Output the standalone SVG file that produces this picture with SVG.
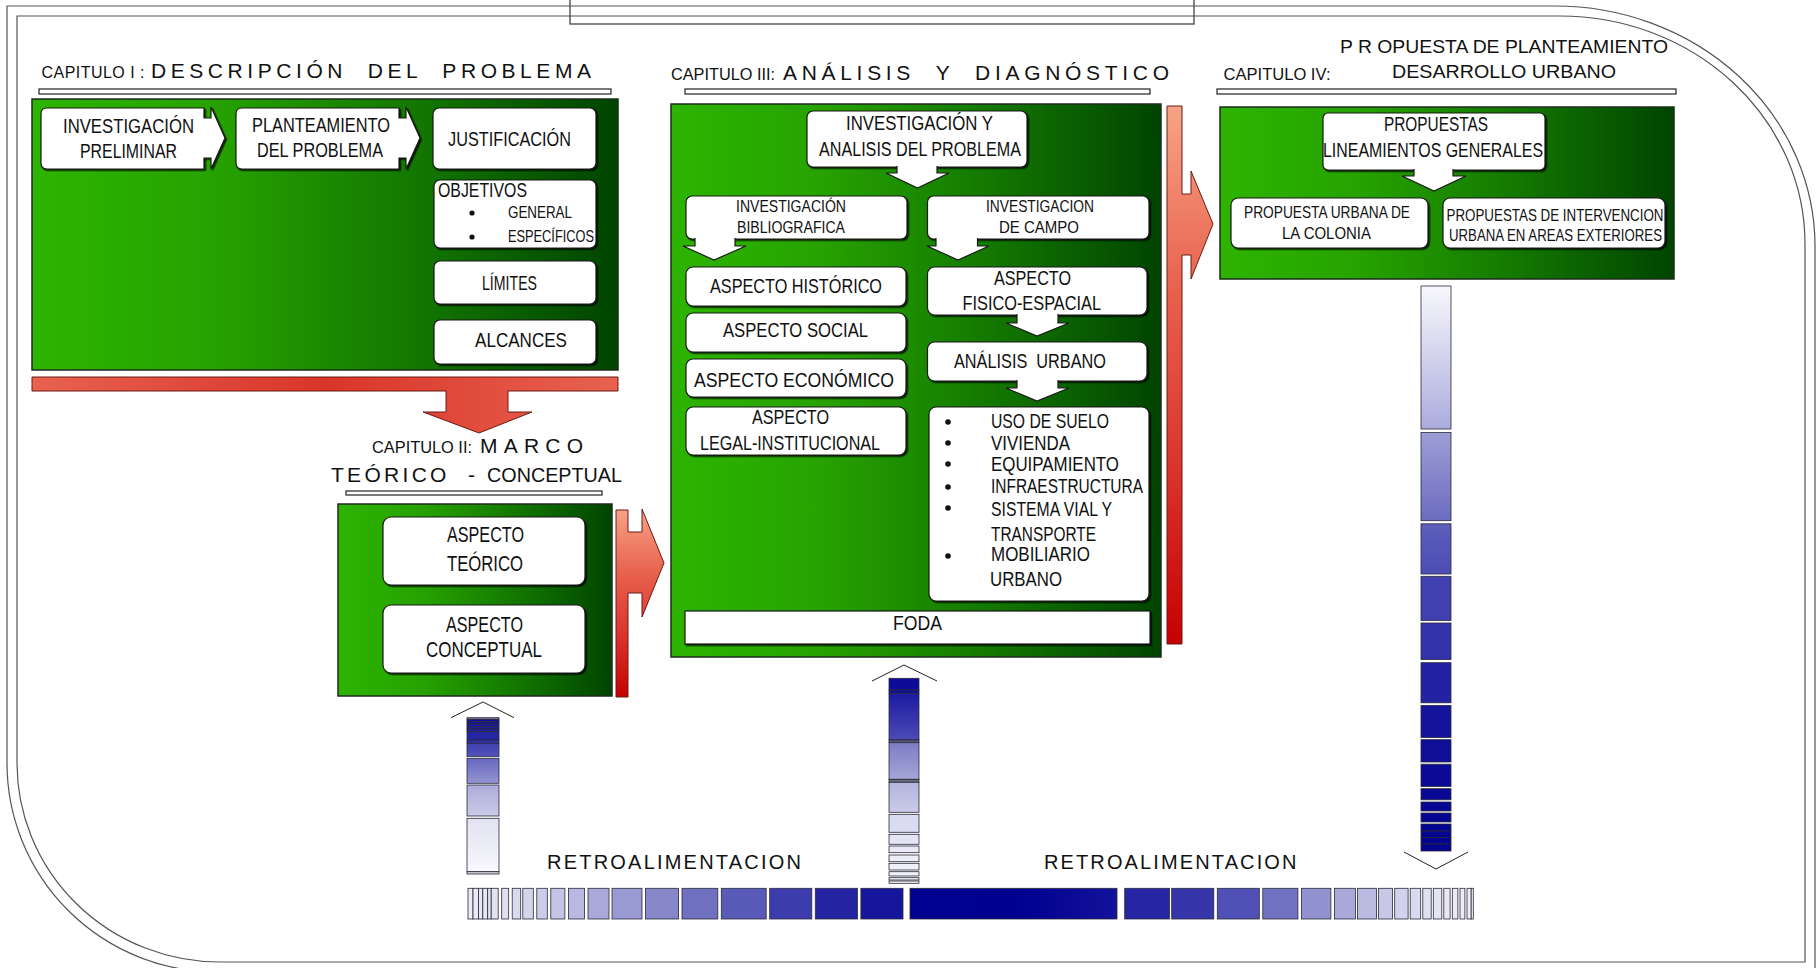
<svg xmlns="http://www.w3.org/2000/svg" width="1818" height="968" viewBox="0 0 1818 968">
<defs>
<linearGradient id="green" x1="0" y1="0" x2="1" y2="0">
<stop offset="0" stop-color="#2db400"/><stop offset="0.3" stop-color="#27a300"/><stop offset="0.65" stop-color="#137800"/><stop offset="1" stop-color="#004400"/>
</linearGradient>
<linearGradient id="redH" x1="0" y1="0" x2="1" y2="0">
<stop offset="0" stop-color="#e8624f"/><stop offset="0.5" stop-color="#d9352a"/><stop offset="1" stop-color="#e8624f"/>
</linearGradient>
<linearGradient id="redV" x1="0" y1="0" x2="0" y2="1">
<stop offset="0" stop-color="#f7a386"/><stop offset="0.35" stop-color="#e8604c"/><stop offset="0.7" stop-color="#d8302a"/><stop offset="1" stop-color="#c60000"/>
</linearGradient>
<linearGradient id="gR1" x1="0" y1="0" x2="0" y2="1"><stop offset="0" stop-color="#f8f8fc"/><stop offset="1" stop-color="#acacde"/></linearGradient>
<linearGradient id="gR2" x1="0" y1="0" x2="0" y2="1"><stop offset="0" stop-color="#9e9ed6"/><stop offset="1" stop-color="#6c6cc0"/></linearGradient>
<linearGradient id="gR3" x1="0" y1="0" x2="0" y2="1"><stop offset="0" stop-color="#5e5ebc"/><stop offset="1" stop-color="#4c4cb6"/></linearGradient>
<linearGradient id="gM1" x1="0" y1="0" x2="0" y2="1"><stop offset="0" stop-color="#1a1aa0"/><stop offset="1" stop-color="#4c4cb6"/></linearGradient>
<linearGradient id="gM2" x1="0" y1="0" x2="0" y2="1"><stop offset="0" stop-color="#7c7cc6"/><stop offset="1" stop-color="#a6a6d8"/></linearGradient>
<linearGradient id="gM3" x1="0" y1="0" x2="0" y2="1"><stop offset="0" stop-color="#b4b4de"/><stop offset="1" stop-color="#cacae8"/></linearGradient>
<linearGradient id="gL1" x1="0" y1="0" x2="0" y2="1"><stop offset="0" stop-color="#4040b0"/><stop offset="1" stop-color="#5454ba"/></linearGradient>
<linearGradient id="gL2" x1="0" y1="0" x2="0" y2="1"><stop offset="0" stop-color="#6868c0"/><stop offset="1" stop-color="#9494d2"/></linearGradient>
<linearGradient id="gL3" x1="0" y1="0" x2="0" y2="1"><stop offset="0" stop-color="#acacda"/><stop offset="1" stop-color="#cacae8"/></linearGradient>
<linearGradient id="gL4" x1="0" y1="0" x2="0" y2="1"><stop offset="0" stop-color="#e2e2f2"/><stop offset="1" stop-color="#f8f8fc"/></linearGradient>
<linearGradient id="gC" x1="0" y1="0" x2="1" y2="0"><stop offset="0" stop-color="#020290"/><stop offset="0.5" stop-color="#000090"/><stop offset="1" stop-color="#12129a"/></linearGradient>
<filter id="sh" x="-5%" y="-5%" width="110%" height="115%"><feDropShadow dx="1.5" dy="1.5" stdDeviation="0.6" flood-color="#000" flood-opacity="0.75"/></filter>
</defs>
<style>
.t{font-family:"Liberation Sans",Arial,sans-serif;fill:#111;font-size:21px;white-space:pre}
.s16{font-size:16px}.s165{font-size:17px}.s19{font-size:20px}.s21{font-size:21.5px}
.box{fill:#fff;stroke:#1a1a1a;stroke-width:1.2;filter:url(#sh)}
.gbox{fill:url(#green);stroke:#1d2d1d;stroke-width:1.5}
.ubar{fill:#fff;stroke:#222;stroke-width:1.2}
.frame{fill:none;stroke:#555;stroke-width:1.2}
.seg rect{stroke:#2a2a3a;stroke-width:0.8}
.chev{fill:none;stroke:#222;stroke-width:1}
.warr{fill:#fff;stroke:#1a1a1a;stroke-width:1.2}
.red{stroke:#6b1a14;stroke-width:1}
</style>
<rect width="1818" height="968" fill="#fff"/>

<g id="frame">
<path class="frame" d="M7,763 V6 H1555 A260,240 0 0 1 1815,246 V972 H217 A210,209 0 0 1 7,763 Z"/>
<path class="frame" d="M17,763 V16 H1560 A245,228 0 0 1 1805,244 V962 H220 A203,199 0 0 1 17,763 Z"/>
<rect x="570" y="-2" width="624" height="26" fill="none" stroke="#444" stroke-width="1.3"/>
</g>

<g id="chapter1">
<text class="t s16" x="41.5" y="78" textLength="103" lengthAdjust="spacing">CAPITULO I :</text>
<text class="t" x="151" y="78" textLength="440" lengthAdjust="spacing">DESCRIPCIÓN  DEL  PROBLEMA</text>
<rect class="ubar" x="39" y="89" width="572" height="5"/>
<rect class="gbox" x="32" y="99" width="586" height="271"/>
<path class="box" d="M47,108 H204 V118 H211 V107 L225,138 L211,169 V158 H204 V169 H47 Q41,169 41,163 V114 Q41,108 47,108 Z"/>
<text class="t" x="63" y="133" textLength="131" lengthAdjust="spacingAndGlyphs">INVESTIGACIÓN</text>
<text class="t" x="80" y="158" textLength="97" lengthAdjust="spacingAndGlyphs">PRELIMINAR</text>
<path class="box" d="M242,108 H399 V118 H406 V107 L420,138 L406,169 V158 H399 V169 H242 Q236,169 236,163 V114 Q236,108 242,108 Z"/>
<text class="t" x="252" y="132" textLength="138" lengthAdjust="spacingAndGlyphs">PLANTEAMIENTO</text>
<text class="t" x="257" y="157" textLength="126" lengthAdjust="spacingAndGlyphs">DEL PROBLEMA</text>
<rect class="box" x="433" y="108" width="163" height="61" rx="6"/>
<text class="t" x="448" y="146" textLength="123" lengthAdjust="spacingAndGlyphs">JUSTIFICACIÓN</text>
<rect class="box" x="434" y="180" width="162" height="68" rx="6"/>
<text class="t" x="438" y="197" textLength="89" lengthAdjust="spacingAndGlyphs">OBJETIVOS</text>
<circle cx="472" cy="213" r="2.6" fill="#111"/>
<circle cx="472" cy="237" r="2.6" fill="#111"/>
<text class="t s165" x="508" y="218" textLength="64" lengthAdjust="spacingAndGlyphs">GENERAL</text>
<text class="t s165" x="508" y="242" textLength="86" lengthAdjust="spacingAndGlyphs">ESPECÍFICOS</text>
<rect class="box" x="434" y="261" width="162" height="43" rx="6"/>
<text class="t" x="482" y="290" textLength="55" lengthAdjust="spacingAndGlyphs">LÍMITES</text>
<rect class="box" x="434" y="320" width="162" height="44" rx="6"/>
<text class="t" x="475" y="347" textLength="92" lengthAdjust="spacingAndGlyphs">ALCANCES</text>
</g>

<g id="chapter2">
<text class="t s16" x="372" y="453" textLength="100" lengthAdjust="spacingAndGlyphs">CAPITULO II:</text>
<text class="t" x="480" y="453" textLength="103" lengthAdjust="spacing">MARCO</text>
<text class="t" x="331" y="482" textLength="144" lengthAdjust="spacing">TEÓRICO  -</text>
<text class="t" x="487" y="482" textLength="135" lengthAdjust="spacingAndGlyphs">CONCEPTUAL</text>
<rect class="ubar" x="346" y="491" width="256" height="4"/>
<rect class="gbox" x="338" y="504" width="274" height="192"/>
<rect class="box" x="383" y="517" width="202" height="68" rx="8"/>
<text class="t s21" x="447" y="542" textLength="77" lengthAdjust="spacingAndGlyphs">ASPECTO</text>
<text class="t s21" x="447" y="571" textLength="76" lengthAdjust="spacingAndGlyphs">TEÓRICO</text>
<rect class="box" x="383" y="605" width="202" height="68" rx="8"/>
<text class="t s21" x="446" y="632" textLength="77" lengthAdjust="spacingAndGlyphs">ASPECTO</text>
<text class="t s21" x="426" y="657" textLength="116" lengthAdjust="spacingAndGlyphs">CONCEPTUAL</text>
</g>

<g id="chapter3">
<text class="t s16" x="671" y="80" textLength="104" lengthAdjust="spacingAndGlyphs">CAPITULO III:</text>
<text class="t" x="783" y="80" textLength="386" lengthAdjust="spacing">ANÁLISIS  Y  DIAGNÓSTICO</text>
<rect class="ubar" x="685" y="89" width="465" height="5"/>
<rect class="gbox" x="671" y="104" width="490" height="553"/>
<rect class="box" x="807" y="111" width="220" height="56" rx="6"/>
<text class="t s19" x="846" y="130" textLength="147" lengthAdjust="spacingAndGlyphs">INVESTIGACIÓN Y</text>
<text class="t s19" x="819" y="156" textLength="202" lengthAdjust="spacingAndGlyphs">ANALISIS DEL PROBLEMA</text>
<rect class="box" x="686" y="196" width="221" height="43" rx="6"/>
<text class="t s165" x="736" y="212" textLength="110" lengthAdjust="spacingAndGlyphs">INVESTIGACIÓN</text>
<text class="t s165" x="737" y="233" textLength="108" lengthAdjust="spacingAndGlyphs">BIBLIOGRAFICA</text>
<rect class="box" x="927.5" y="196" width="221.5" height="43" rx="6"/>
<text class="t s165" x="986" y="212" textLength="108" lengthAdjust="spacingAndGlyphs">INVESTIGACION</text>
<text class="t s165" x="999" y="233" textLength="80" lengthAdjust="spacingAndGlyphs">DE CAMPO</text>
<rect class="box" x="686" y="267" width="220" height="39" rx="7"/>
<text class="t" x="710" y="293" textLength="172" lengthAdjust="spacingAndGlyphs">ASPECTO HISTÓRICO</text>
<rect class="box" x="686" y="313" width="220" height="39" rx="7"/>
<text class="t" x="723" y="337" textLength="145" lengthAdjust="spacingAndGlyphs">ASPECTO SOCIAL</text>
<rect class="box" x="686" y="359" width="220" height="38" rx="7"/>
<text class="t" x="694" y="387" textLength="200" lengthAdjust="spacingAndGlyphs">ASPECTO ECONÓMICO</text>
<rect class="box" x="686" y="407" width="220" height="48" rx="7"/>
<text class="t" x="752" y="424" textLength="77" lengthAdjust="spacingAndGlyphs">ASPECTO</text>
<text class="t" x="700" y="450" textLength="180" lengthAdjust="spacingAndGlyphs">LEGAL-INSTITUCIONAL</text>
<rect class="box" x="927.5" y="267" width="219.5" height="48" rx="7"/>
<text class="t" x="994" y="285" textLength="77" lengthAdjust="spacingAndGlyphs">ASPECTO</text>
<text class="t" x="962.5" y="310" textLength="138.5" lengthAdjust="spacingAndGlyphs">FISICO-ESPACIAL</text>
<rect class="box" x="927.5" y="342" width="219.5" height="39" rx="7"/>
<text class="t" x="954" y="368" textLength="152" lengthAdjust="spacingAndGlyphs">ANÁLISIS  URBANO</text>
<rect class="box" x="929" y="407" width="220" height="194" rx="7"/>
<g fill="#111">
<circle cx="948" cy="422" r="2.8"/><circle cx="948" cy="443" r="2.8"/><circle cx="948" cy="464" r="2.8"/>
<circle cx="948" cy="487" r="2.8"/><circle cx="948" cy="508" r="2.8"/><circle cx="948" cy="556" r="2.8"/>
</g>
<text class="t" x="991" y="428" textLength="118" lengthAdjust="spacingAndGlyphs">USO DE SUELO</text>
<text class="t" x="991" y="450" textLength="79" lengthAdjust="spacingAndGlyphs">VIVIENDA</text>
<text class="t" x="991" y="471" textLength="128" lengthAdjust="spacingAndGlyphs">EQUIPAMIENTO</text>
<text class="t" x="991" y="493" textLength="152" lengthAdjust="spacingAndGlyphs">INFRAESTRUCTURA</text>
<text class="t" x="991" y="516" textLength="121" lengthAdjust="spacingAndGlyphs">SISTEMA VIAL Y</text>
<text class="t" x="991" y="541" textLength="105" lengthAdjust="spacingAndGlyphs">TRANSPORTE</text>
<text class="t" x="991" y="561" textLength="99" lengthAdjust="spacingAndGlyphs">MOBILIARIO</text>
<text class="t" x="990" y="586" textLength="72" lengthAdjust="spacingAndGlyphs">URBANO</text>
<rect class="box" x="685" y="611" width="465" height="33"/>
<text class="t s19" x="893" y="630" textLength="49" lengthAdjust="spacingAndGlyphs">FODA</text>
</g>

<g id="chapter4">
<text class="t" style="font-size:19px" x="1340" y="53" textLength="328" lengthAdjust="spacingAndGlyphs">P R OPUESTA DE PLANTEAMIENTO</text>
<text class="t s16" x="1223.5" y="80" textLength="107" lengthAdjust="spacingAndGlyphs">CAPITULO IV:</text>
<text class="t" style="font-size:19px" x="1392" y="78" textLength="224" lengthAdjust="spacingAndGlyphs">DESARROLLO URBANO</text>
<rect class="ubar" x="1217" y="89" width="459" height="5"/>
<rect class="gbox" x="1220" y="107" width="454" height="172"/>
<rect class="box" x="1323" y="113" width="222" height="57" rx="5"/>
<text class="t" x="1384" y="131" textLength="104" lengthAdjust="spacingAndGlyphs">PROPUESTAS</text>
<text class="t" x="1323" y="157" textLength="220" lengthAdjust="spacingAndGlyphs">LINEAMIENTOS GENERALES</text>
<rect class="box" x="1231" y="198" width="197" height="50" rx="7"/>
<text class="t s165" x="1244" y="218" textLength="166" lengthAdjust="spacingAndGlyphs">PROPUESTA URBANA DE</text>
<text class="t s165" x="1282" y="239" textLength="89" lengthAdjust="spacingAndGlyphs">LA COLONIA</text>
<rect class="box" x="1443" y="198" width="222" height="50" rx="7"/>
<text class="t s165" x="1446.5" y="221" textLength="217" lengthAdjust="spacingAndGlyphs">PROPUESTAS DE INTERVENCION</text>
<text class="t s165" x="1449" y="241" textLength="213" lengthAdjust="spacingAndGlyphs">URBANA EN AREAS EXTERIORES</text>
</g>

<g id="connectors">
<path class="warr" d="M897,166 V173 H886 L917.5,188 L949,173 H937 V166"/>
<path class="warr" d="M695,238 V246 H683 L714,260 L746,246 H735 V238"/>
<path class="warr" d="M936,238 V246 H927 L958,260 L989,246 H977.5 V238"/>
<path class="warr" d="M1017,314 V323 H1006 L1037,336 L1069,323 H1058 V314"/>
<path class="warr" d="M1017,380 V388 H1006 L1037,401 L1069,388 H1058 V380"/>
<path class="warr" d="M1414,169 V176 H1402 L1434,191 L1466,176 H1453 V169"/>

<path class="red" fill="url(#redH)" d="M32,377 H618 V391 H508 V412 H532 L479,433 L423,412 H446 V391 H32 Z"/>
<path class="red" fill="url(#redV)" d="M616,510 H628 V532 H642 V509 L664,563 L642,617 V593 H628 V697 H616 Z"/>
<path class="red" fill="url(#redV)" d="M1167,106 H1182 V194 H1191 V171 L1213,224 L1191,279 V255 H1182 V644 H1167 Z"/>

<g class="seg" id="bar-right">
<rect x="1421" y="286" width="30" height="143" fill="url(#gR1)"/>
<rect x="1421" y="432.5" width="30" height="88.2" fill="url(#gR2)"/>
<rect x="1421" y="523.8" width="30" height="50.2" fill="url(#gR3)"/>
<rect x="1421" y="576.3" width="30" height="44.1" fill="#4040b0"/>
<rect x="1421" y="623" width="30" height="36.6" fill="#3232aa"/>
<rect x="1421" y="662.7" width="30" height="40.1" fill="#2222a2"/>
<rect x="1421" y="705.4" width="30" height="32.1" fill="#14149c"/>
<rect x="1421" y="739.7" width="30" height="22.3" fill="#0e0e98"/>
<rect x="1421" y="764.2" width="30" height="22.3" fill="#0a0a96"/>
<rect x="1421" y="788.7" width="30" height="11.1" fill="#080894"/>
<rect x="1421" y="802" width="30" height="9" fill="#060694"/>
<rect x="1421" y="813" width="30" height="9" fill="#050592"/>
<rect x="1421" y="824" width="30" height="7" fill="#040492"/>
<rect x="1421" y="831" width="30" height="6.6" fill="#040490"/>
<rect x="1421" y="837.6" width="30" height="6.4" fill="#030390"/>
<rect x="1421" y="844" width="30" height="7" fill="#030390"/>
</g>
<polyline class="chev" points="1404,852 1436,869 1468,852"/>

<g class="seg" id="bar-middle">
<rect x="889" y="678.3" width="30" height="11.7" fill="#0c0c98"/>
<rect x="889" y="690" width="30" height="3.3" fill="#10109a"/>
<rect x="889" y="693.3" width="30" height="46.7" fill="url(#gM1)"/>
<rect x="889" y="740" width="30" height="2.7" fill="#585878"/>
<rect x="889" y="742.7" width="30" height="36.6" fill="url(#gM2)"/>
<rect x="889" y="779.3" width="30" height="3" fill="#6a6a80"/>
<rect x="889" y="782.3" width="30" height="30" fill="url(#gM3)"/>
<rect x="889" y="814.3" width="30" height="18" fill="#dadaf0"/>
<rect x="889" y="834.3" width="30" height="10" fill="#e4e4f4"/>
<rect x="889" y="846" width="30" height="6.7" fill="#eaeaf6"/>
<rect x="889" y="855" width="30" height="6.7" fill="#eeeef8"/>
<rect x="889" y="863.3" width="30" height="6.7" fill="#f0f0f8"/>
<rect x="889" y="871.7" width="30" height="4.3" fill="#f2f2fa"/>
<rect x="889" y="877.7" width="30" height="2.3" fill="#f4f4fa"/>
<rect x="889" y="881" width="30" height="2.3" fill="#f6f6fb"/>
</g>
<polyline class="chev" points="872,681 904,665 937,681"/>

<g class="seg" id="bar-left">
<rect x="467" y="717.7" width="32" height="1.6" fill="#8a8a9a"/>
<rect x="467" y="719.3" width="32" height="2.4" fill="#10109a"/>
<rect x="467" y="721.7" width="32" height="2.3" fill="#14149c"/>
<rect x="467" y="724" width="32" height="2.7" fill="#18189e"/>
<rect x="467" y="726.7" width="32" height="2.3" fill="#1c1ca0"/>
<rect x="467" y="729" width="32" height="2.7" fill="#2020a2"/>
<rect x="467" y="731.7" width="32" height="8.3" fill="#2626a4"/>
<rect x="467" y="740" width="32" height="3.3" fill="#3030a8"/>
<rect x="467" y="743.3" width="32" height="13.4" fill="url(#gL1)"/>
<rect x="467" y="758.3" width="32" height="25" fill="url(#gL2)"/>
<rect x="467" y="785" width="32" height="31" fill="url(#gL3)"/>
<rect x="467" y="818.3" width="32" height="53.4" fill="url(#gL4)"/>
<rect x="467" y="871.7" width="32" height="2.3" fill="#d0d0d8"/>
</g>
<polyline class="chev" points="451,717.7 483,702 514,717.7"/>

<g class="seg" id="bar-bottom">
<rect x="468" y="888.3" width="5" height="30.7" fill="#ececf6"/>
<rect x="473" y="888.3" width="5.6" height="30.7" fill="#eaeaf5"/>
<rect x="478.6" y="888.3" width="4.2" height="30.7" fill="#e8e8f4"/>
<rect x="482.8" y="888.3" width="4.9" height="30.7" fill="#e6e6f4"/>
<rect x="487.7" y="888.3" width="3.5" height="30.7" fill="#e4e4f3"/>
<rect x="491.2" y="888.3" width="7" height="30.7" fill="#e2e2f2"/>
<rect x="501.7" y="888.3" width="7" height="30.7" fill="#dedef0"/>
<rect x="512.2" y="888.3" width="8.5" height="30.7" fill="#dadaee"/>
<rect x="522.8" y="888.3" width="10.5" height="30.7" fill="#d4d4ec"/>
<rect x="536.8" y="888.3" width="10.5" height="30.7" fill="#cdcde9"/>
<rect x="550.8" y="888.3" width="14.1" height="30.7" fill="#c4c4e4"/>
<rect x="568.4" y="888.3" width="16.1" height="30.7" fill="#b8b8e0"/>
<rect x="588" y="888.3" width="21" height="30.7" fill="#aaaada"/>
<rect x="612" y="888.3" width="30" height="30.7" fill="#9a9ad2"/>
<rect x="645.5" y="888.3" width="33" height="30.7" fill="#8686c8"/>
<rect x="682" y="888.3" width="35.8" height="30.7" fill="#7070c0"/>
<rect x="721.3" y="888.3" width="44.9" height="30.7" fill="#5a5ab8"/>
<rect x="769.7" y="888.3" width="42.1" height="30.7" fill="#3c3cac"/>
<rect x="815.3" y="888.3" width="42.1" height="30.7" fill="#2424a2"/>
<rect x="860.9" y="888.3" width="42.1" height="30.7" fill="#16169c"/>
<rect x="910" y="888.3" width="207" height="30.7" fill="url(#gC)"/>
<rect x="1124.7" y="888.3" width="44.8" height="30.7" fill="#2626a4"/>
<rect x="1171.7" y="888.3" width="42.1" height="30.7" fill="#3636aa"/>
<rect x="1217.3" y="888.3" width="42" height="30.7" fill="#5050b6"/>
<rect x="1262.8" y="888.3" width="35.1" height="30.7" fill="#7272c2"/>
<rect x="1301.4" y="888.3" width="29.5" height="30.7" fill="#9292d0"/>
<rect x="1334.4" y="888.3" width="21" height="30.7" fill="#a8a8da"/>
<rect x="1357.5" y="888.3" width="19" height="30.7" fill="#babae2"/>
<rect x="1378.6" y="888.3" width="14" height="30.7" fill="#c8c8e6"/>
<rect x="1394.7" y="888.3" width="13.4" height="30.7" fill="#d2d2ec"/>
<rect x="1410.2" y="888.3" width="10.5" height="30.7" fill="#dadaef"/>
<rect x="1422.8" y="888.3" width="8.4" height="30.7" fill="#e0e0f2"/>
<rect x="1433.3" y="888.3" width="8.5" height="30.7" fill="#e4e4f3"/>
<rect x="1443.8" y="888.3" width="6.3" height="30.7" fill="#e8e8f4"/>
<rect x="1452.3" y="888.3" width="5.6" height="30.7" fill="#eaeaf5"/>
<rect x="1460" y="888.3" width="4.9" height="30.7" fill="#ececf6"/>
<rect x="1467" y="888.3" width="4.2" height="30.7" fill="#eeeef7"/>
<rect x="1471.2" y="888.3" width="2.1" height="30.7" fill="#f0f0f8"/>
</g>
<text class="t" style="font-size:20px" x="547" y="869" textLength="254" lengthAdjust="spacing">RETROALIMENTACION</text>
<text class="t" style="font-size:20px" x="1044" y="869" textLength="252.5" lengthAdjust="spacing">RETROALIMENTACION</text>
</g>
</svg>
